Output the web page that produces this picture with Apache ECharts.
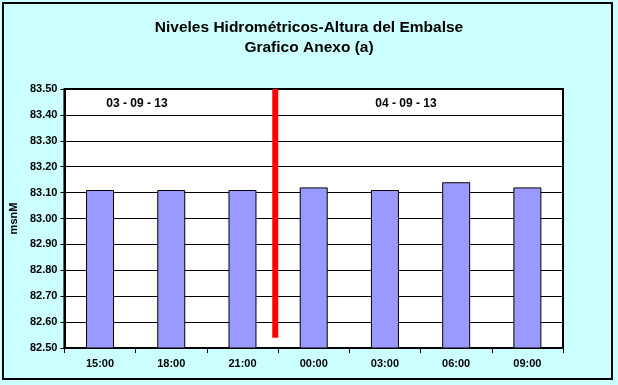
<!DOCTYPE html>
<html><head><meta charset="utf-8">
<script src="https://cdn.jsdelivr.net/npm/echarts@6/dist/echarts.min.js"></script>
<style>html,body{margin:0;padding:0;background:#CCFFFF}#c{width:618px;height:385px}</style>
</head><body><div id="c"></div>
<script>
var titleText = 'Niveles Hidrométricos-Altura del Embalse\nGrafico Anexo (a)';
var categories = ['15:00','18:00','21:00','00:00','03:00','06:00','09:00'];
var levels = [83.11, 83.11, 83.11, 83.12, 83.11, 83.14, 83.12];
var yMin = 82.5, yMax = 83.5, yStep = 0.1;
var yName = 'msnM';
var dateLabels = ['03 - 09 - 13', '04 - 09 - 13'];
var dividerX = 2.96;            // position between 21:00 and 00:00 (category units)
var dividerY = [83.5, 82.54];   // red divider extent

var font = 'Liberation Sans, Arial, sans-serif';
var chart = echarts.init(document.getElementById('c'), null, {renderer: 'canvas'});
chart.setOption({
  backgroundColor: '#CCFFFF',
  animation: false,
  title: {
    text: titleText, left: 'center', top: 13,
    textStyle: {fontFamily: font, fontSize: 15.5, fontWeight: 'bold', color: '#000', lineHeight: 20}
  },
  grid: {left: 62, right: 55, top: 89, bottom: 37, show: true, backgroundColor: '#fff', borderColor: '#000', borderWidth: 2},
  xAxis: [{
    type: 'category', data: categories,
    axisLine: {lineStyle: {color: '#000', width: 2}},
    axisTick: {show: true, length: 5, lineStyle: {color: '#000'}},
    axisLabel: {fontFamily: font, fontSize: 11, fontWeight: 'bold', color: '#000', margin: 10}
  }, {
    type: 'value', min: 0, max: categories.length, show: false
  }],
  yAxis: {
    type: 'value', min: yMin, max: yMax, interval: yStep,
    name: yName, nameLocation: 'middle', nameGap: 40, nameRotate: 90,
    nameTextStyle: {fontFamily: font, fontSize: 11, fontWeight: 'bold', color: '#000'},
    axisLine: {show: true, lineStyle: {color: '#000', width: 2}},
    axisTick: {show: true, length: 4, lineStyle: {color: '#000'}},
    splitLine: {show: true, lineStyle: {color: '#000', width: 1}},
    axisLabel: {fontFamily: font, fontSize: 11, fontWeight: 'bold', color: '#000', margin: 7,
      formatter: function(v){ return v.toFixed(2); }}
  },
  series: [{
    type: 'bar', data: levels, barWidth: 28, xAxisIndex: 0,
    itemStyle: {color: '#9999FF', borderColor: '#000', borderWidth: 1}
  }, {
    type: 'line', xAxisIndex: 1, symbol: 'none',
    data: [[dividerX, dividerY[0]], [dividerX, dividerY[1]]],
    lineStyle: {color: '#FF0000', width: 6, cap: 'butt'}
  }],
  graphic: [
    {type: 'rect', shape: {x: 3, y: 3, width: 609, height: 376}, style: {fill: null, stroke: '#000', lineWidth: 2}, z: 100},
    {type: 'text', x: 137, y: 104, style: {text: dateLabels[0], font: 'bold 12px ' + font, fill: '#000', align: 'center', verticalAlign: 'middle'}, z: 100},
    {type: 'text', x: 406, y: 104, style: {text: dateLabels[1], font: 'bold 12px ' + font, fill: '#000', align: 'center', verticalAlign: 'middle'}, z: 100}
  ]
});
</script></body></html>
